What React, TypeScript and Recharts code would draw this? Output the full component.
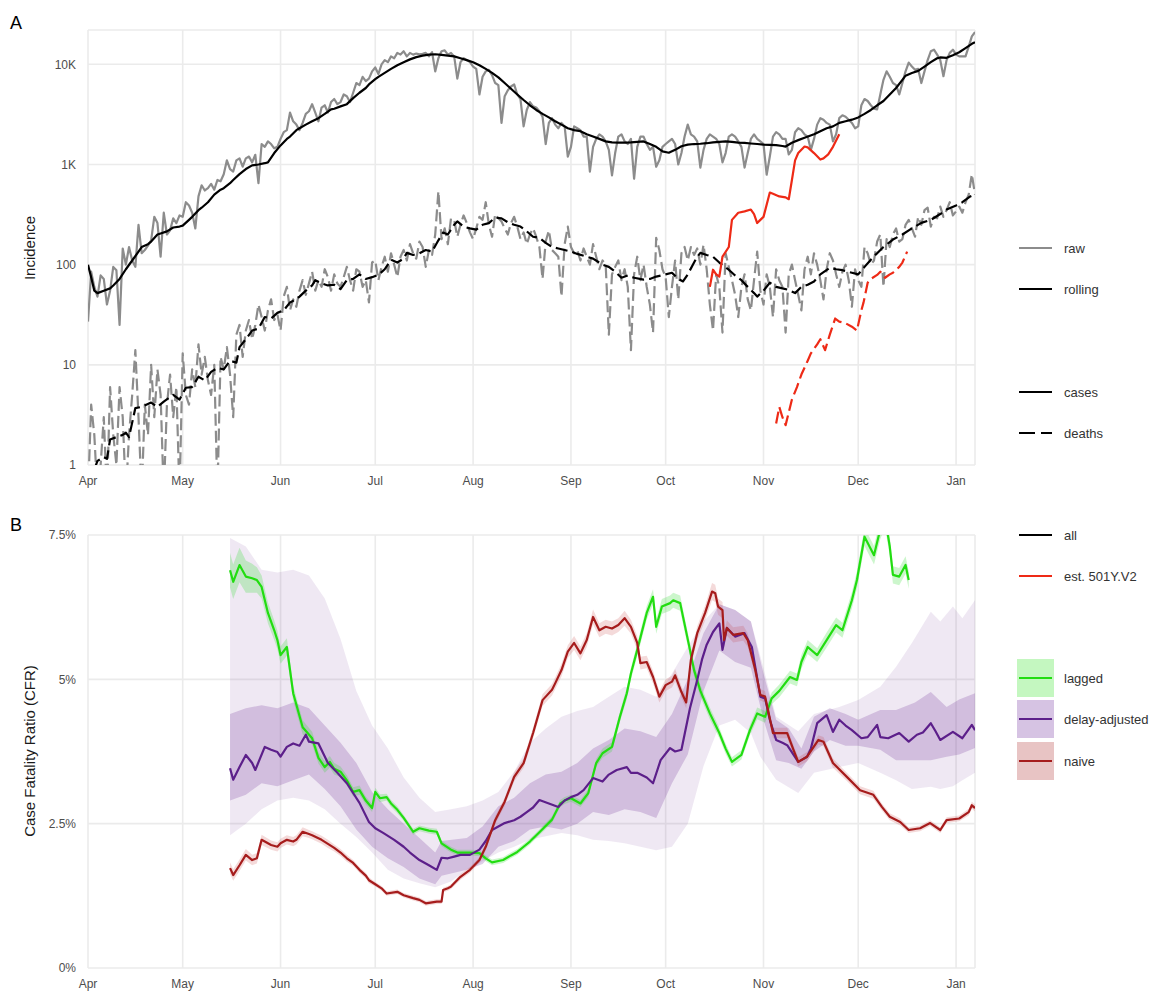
import React from 'react';
import { ComposedChart, Line, Area, XAxis, YAxis, CartesianGrid } from 'recharts';

const FONT = '"Liberation Sans", Arial, Helvetica, sans-serif';

// ---- axes ----
const monthTicks = [0, 30, 61, 91, 122, 153, 183, 214, 244, 275];
const monthLabels = ['Apr', 'May', 'Jun', 'Jul', 'Aug', 'Sep', 'Oct', 'Nov', 'Dec', 'Jan'];
const incidenceTicks = [1, 10, 100, 1000, 10000];
const incidenceLabels = ['1', '10', '100', '1K', '10K'];
const cfrTicks = [0, 2.5, 5, 7.5];
const cfrLabels = ['0%', '2.5%', '5%', '7.5%'];

// ---- Panel A : incidence (day 0 = 1 April) ----
const casesRaw = [
  27, 85, 60, 48, 78, 72, 40,
  55, 95, 88, 25, 145, 100, 150,
  110, 95, 250, 130, 140, 155, 175,
  300, 260, 120, 330, 200, 220, 290,
  260, 310, 300, 420, 390, 330, 230,
  480, 620, 550, 580, 640, 560, 700,
  680, 800, 1100, 900, 850, 1100, 1150,
  950, 1150, 1200, 1050, 1250, 650, 1600,
  1500, 1700, 1600, 1450, 1500, 1800, 2100,
  2200, 3300, 2700, 2500, 2200, 2600, 3200,
  3400, 4000, 3300, 2700, 3700, 3900, 3300,
  4200, 4500, 4000, 4200, 5000, 4800, 4200,
  5200, 6500, 6200, 7500, 6800, 7200, 8500,
  9300, 8000, 10000, 11000, 10500, 12000, 11500,
  13000, 12500, 13500, 12000, 13000, 12500, 12800,
  12600, 12700, 13000, 12000, 13200, 8500, 11500,
  13500, 13800, 12500, 13000, 12000, 7200, 10500,
  11500, 11000, 10500, 9500, 9000, 5000, 7500,
  8500, 8800, 7800, 6500, 6200, 2600, 4800,
  5500, 6000, 6300, 5000, 4500, 2400, 3500,
  4200, 3800, 3700, 3400, 3000, 1600, 2600,
  2900, 2500, 2300, 2600, 2400, 1200, 1500,
  2400, 2300, 2200, 1900, 1900, 850, 1500,
  1800, 2000, 1900, 1700, 1400, 780, 1300,
  1900, 2000, 1700, 1600, 1800, 720, 1500,
  1900, 1900, 1600, 1400, 1500, 950, 1100,
  1500, 1600, 1700, 1800, 1600, 1000, 1300,
  1900, 2500, 2000, 1900, 1700, 930, 1400,
  1800, 2000, 1900, 1800, 1600, 1050, 1300,
  1900, 2000, 1900, 1700, 1500, 930, 1300,
  1800, 2000, 1800, 1700, 1600, 790, 1200,
  1900, 2100, 2000, 1800, 1800, 1260, 1400,
  2100, 2300, 2200, 2000, 1900, 1400, 1800,
  2500, 2900, 2800, 2600, 2500, 1700, 2000,
  2900, 3100, 3000, 2800, 2600, 2300, 2400,
  3900, 4500, 4300, 3900, 3600, 3550, 5000,
  7000, 8500, 7500, 6500, 6200, 5000, 6500,
  8500, 10400, 9500, 8800, 9000, 6500, 8500,
  11000, 13500, 14000, 12500, 11000, 7600, 11000,
  13000, 14000, 12500, 12000, 12000, 12000, 15000,
  19000, 21000,
];

const casesRolling: [number, number][] = [
  [0, 100], [1, 75], [2, 55], [3, 52], [5, 55], [7, 58], [8, 62], [10, 72], [12, 90], [14, 110],
  [16, 135], [17, 150], [19, 160], [20, 170], [22, 200], [23, 205], [25, 215], [27, 235], [29, 240],
  [30, 245], [32, 280], [33, 300], [35, 350], [36, 370], [38, 420], [40, 500], [42, 560], [43, 580],
  [45, 650], [46, 700], [48, 800], [50, 900], [52, 980], [54, 1000], [56, 1030], [57, 1050],
  [59, 1300], [61, 1550], [63, 1800], [64, 1900], [66, 2200], [67, 2300], [69, 2500], [71, 2700],
  [73, 2900], [75, 3200], [77, 3550], [78, 3600], [80, 3800], [82, 4000], [84, 4600], [86, 5200],
  [88, 5800], [89, 6300], [91, 7100], [92, 7500], [94, 8200], [96, 9000], [98, 9800], [100, 10500],
  [102, 11200], [104, 11800], [106, 12200], [108, 12500], [110, 12600], [112, 12400], [114, 12200],
  [116, 12000], [118, 11500], [120, 11000], [122, 10500], [124, 9800], [126, 9000], [128, 8200],
  [130, 7400], [132, 6500], [134, 5700], [136, 5000], [138, 4400], [140, 3900], [142, 3500],
  [144, 3200], [146, 2950], [148, 2700], [150, 2500], [152, 2300], [154, 2200], [156, 2150],
  [158, 2000], [160, 1900], [162, 1800], [164, 1700], [166, 1660], [168, 1650], [170, 1650],
  [172, 1660], [174, 1680], [176, 1700], [178, 1600], [180, 1500], [182, 1350], [184, 1310],
  [186, 1400], [188, 1520], [190, 1580], [192, 1600], [194, 1610], [196, 1630], [198, 1660],
  [200, 1680], [202, 1700], [204, 1680], [206, 1650], [208, 1640], [210, 1620], [212, 1600],
  [214, 1580], [216, 1570], [218, 1560], [220, 1530], [221, 1510], [223, 1650], [225, 1750],
  [227, 1850], [230, 2000], [232, 2150], [234, 2300], [236, 2400], [238, 2600], [240, 2700],
  [242, 2800], [244, 2950], [246, 3200], [248, 3500], [250, 3900], [252, 4300], [254, 5000],
  [256, 5800], [258, 7000], [259, 7700], [261, 8200], [263, 8600], [265, 9500], [267, 10500],
  [269, 11500], [270, 11700], [272, 11600], [274, 12300], [276, 13200], [278, 14500], [280, 16000],
  [281, 16600],
];

// 0.5 stands for days with zero reported deaths (below the log axis)
const deathsRaw = [
  0.5, 4, 2, 0.5, 1, 3, 0.5, 6, 2, 1,
  6, 3, 0.5, 2, 5, 14, 3, 0.5, 4, 2,
  10, 3, 9, 5, 0.5, 4, 8, 3, 6, 0.5,
  13, 5, 4, 9, 6, 16, 8, 12, 7, 5,
  10, 0.5, 12, 9, 15, 8, 3, 20, 25, 12,
  22, 28, 18, 25, 40, 30, 22, 35, 45, 28,
  32, 22, 48, 60, 35, 45, 38, 55, 70, 50,
  65, 85, 55, 70, 60, 90, 75, 55, 80, 65,
  60, 75, 95, 70, 55, 90, 85, 60, 70, 42,
  105, 110, 70, 95, 120, 85, 130, 100, 75, 120,
  140, 110, 160, 130, 115, 170, 150, 95, 140, 125,
  200, 540, 180, 230, 160, 290, 280, 190, 250, 310,
  260, 210, 180, 230, 300, 280, 420, 250, 190, 320,
  290, 270, 230, 200, 260, 300, 240, 180, 210, 160,
  200, 230, 190, 150, 72, 170, 220, 140, 130, 120,
  48, 160, 240, 150, 130, 140, 110, 145, 120, 100,
  160, 120, 90, 110, 100, 20, 80, 95, 110, 70,
  90, 60, 14, 80, 120, 70, 100, 60, 40, 21,
  185, 140, 90, 75, 30, 60, 110, 45, 130, 150,
  110, 150, 125, 145, 100, 158, 90, 40, 22, 80,
  60, 21, 130, 95, 70, 50, 30, 60, 80, 45,
  35, 70, 135, 55, 40, 80, 60, 30, 90, 70,
  60, 21, 80, 100, 70, 50, 35, 90, 120, 80,
  130, 100, 70, 45, 90, 130, 110, 80, 60, 85,
  100, 70, 38, 90, 70, 60, 150, 130, 100, 110,
  170, 200, 60, 180, 150, 200, 230, 170, 180, 250,
  280, 230, 190, 300, 250, 350, 370, 240, 300, 290,
  380, 300, 350, 420, 310, 340, 380, 330, 420, 500, 800, 500,
];

const deathsRolling: [number, number][] = [
  [2, 0.9], [3, 1.1], [5, 1.2], [6, 1.15], [7, 1.8], [9, 1.9], [11, 2.0], [12, 2.1], [13, 1.9],
  [15, 3.7], [17, 3.8], [20, 4.2], [22, 3.8], [24, 4.3], [27, 5.0], [29, 4.5], [31, 5.9], [33, 6.0],
  [35, 7.6], [37, 7.0], [39, 8.5], [41, 9.3], [43, 9.0], [45, 11], [47, 10.5], [48, 15], [50, 18],
  [52, 22], [54, 23], [56, 30], [58, 29], [60, 33], [62, 35], [64, 42], [66, 45], [67, 48], [69, 55],
  [71, 62], [72, 70], [74, 65], [76, 62], [78, 63], [80, 57], [82, 70], [84, 72], [86, 80], [88, 72],
  [90, 75], [92, 79], [94, 90], [96, 112], [98, 105], [100, 115], [101, 131], [103, 125], [105, 130],
  [107, 140], [109, 135], [111, 175], [112.5, 209], [114, 200], [116, 250], [117, 270], [119, 240],
  [121, 230], [123, 224], [125, 250], [127, 260], [129, 295], [131, 290], [133, 265], [135, 250],
  [137, 240], [139, 215], [141, 190], [143, 185], [145, 165], [147, 150], [149, 145], [151, 140],
  [153, 135], [155, 128], [158, 120], [160, 115], [163, 100], [165, 95], [167, 85], [169, 74],
  [171, 78], [173, 74], [176, 71], [178, 72], [180, 76], [183, 80], [185, 83], [187, 72], [188.5, 68],
  [190, 80], [192, 105], [193, 120], [194, 131], [196, 125], [198, 120], [200, 105], [203, 89],
  [205, 78], [207, 70], [209, 60], [211, 52], [212, 48], [214, 55], [216, 66], [218, 60], [220, 58],
  [222, 56], [224, 52], [226, 60], [228, 63], [230, 68], [232, 80], [235, 93], [237, 90], [239, 88],
  [242, 83], [244, 80], [246, 95], [248, 112], [250, 130], [252, 150], [255, 178], [258, 200],
  [261, 230], [264, 261], [267, 280], [270, 320], [272, 355], [275, 390], [277, 420], [279.5, 480],
  [281, 500],
];

const variantCases: [number, number][] = [
  [197, 60], [198, 89], [199, 80], [200, 76], [201, 120], [203, 150], [204, 280], [206, 330],
  [208, 340], [210, 355], [211, 320], [212, 260], [213, 280], [214, 300], [216, 525], [217, 510],
  [219, 480], [221, 470], [222, 450], [223, 700], [224, 1100], [225, 1300], [227, 1510], [228, 1480],
  [230, 1300], [232, 1120], [233, 1150], [234.5, 1260], [236, 1500], [238, 2000],
];

const variantDeaths: [number, number][] = [
  [218, 2.6], [219, 3.8], [220, 3.0], [221, 2.5], [223, 4.5], [224.6, 6], [226, 8], [228, 11],
  [229, 13], [231, 16], [232, 18], [233.5, 14], [235, 20], [236.7, 29], [238, 27], [240, 26],
  [242, 24], [243.6, 22], [245, 35], [245.7, 42], [247, 66], [248, 72], [250, 79], [251, 85],
  [252.5, 74], [254, 80], [255, 83], [257, 95], [258, 105], [259.5, 135],
];

// ---- Panel B : CFR in % ----
// [day, estimate, half-width of ribbon]
const lagged: [number, number, number][] = [
  [45, 6.89, 0.3], [46, 6.69, 0.3], [48, 6.98, 0.3], [50, 6.78, 0.28], [52, 6.75, 0.25], [53.5, 6.72, 0.22],
  [55, 6.6, 0.2], [57, 6.15, 0.18], [59, 5.85, 0.17], [60, 5.68, 0.16], [61, 5.42, 0.15], [63, 5.56, 0.15],
  [65, 4.76, 0.13], [68, 4.17, 0.12], [71, 3.98, 0.11], [73, 3.64, 0.1], [75, 3.48, 0.1], [76.6, 3.57, 0.1],
  [78, 3.45, 0.1], [80, 3.4, 0.09], [82, 3.25, 0.09], [84, 3.05, 0.08], [86, 3.08, 0.08], [88, 2.9, 0.07],
  [90, 2.77, 0.07], [91, 3.05, 0.07], [92.5, 2.94, 0.07], [94.6, 2.96, 0.06], [96, 2.85, 0.06], [98, 2.74, 0.06],
  [100, 2.6, 0.05], [103, 2.36, 0.05], [105, 2.42, 0.05], [108, 2.38, 0.05], [110.5, 2.36, 0.05],
  [112, 2.16, 0.05], [115, 2.05, 0.05], [117, 2.0, 0.05], [121, 2.0, 0.05], [124, 1.99, 0.05],
  [126, 1.9, 0.05], [128, 1.83, 0.05], [131.5, 1.87, 0.05], [134, 1.95, 0.05], [136, 2.01, 0.05],
  [138, 2.1, 0.05], [140, 2.19, 0.05], [143, 2.35, 0.05], [147, 2.57, 0.06], [149.6, 2.85, 0.06],
  [151, 2.9, 0.06], [153, 2.94, 0.06], [156, 2.85, 0.06], [158.5, 3.03, 0.07], [161, 3.55, 0.07],
  [163, 3.72, 0.08], [166, 3.83, 0.08], [168.5, 4.35, 0.09], [170.7, 4.76, 0.1], [172, 5.1, 0.1],
  [174, 5.51, 0.11], [177, 6.15, 0.12], [179, 6.43, 0.13], [180, 5.91, 0.12], [181.8, 6.26, 0.13],
  [184.4, 6.32, 0.13], [185.4, 6.37, 0.13], [187.6, 6.32, 0.13], [190.7, 5.51, 0.12], [192, 5.16, 0.11],
  [194, 4.8, 0.1], [197, 4.41, 0.1], [200, 4.07, 0.09], [202, 3.8, 0.09], [204, 3.57, 0.08],
  [207, 3.69, 0.08], [209.7, 4.12, 0.09], [212, 4.41, 0.1], [214.5, 4.35, 0.1], [216.6, 4.67, 0.1],
  [219, 4.8, 0.11], [222.4, 5.04, 0.11], [224.6, 4.99, 0.11], [226, 5.3, 0.12], [228, 5.56, 0.12],
  [231, 5.42, 0.12], [234, 5.68, 0.13], [237, 5.94, 0.13], [239, 5.85, 0.13], [242, 6.37, 0.14],
  [243.6, 6.72, 0.15], [246, 7.47, 0.16], [249, 7.15, 0.16], [251, 7.6, 0.17], [252.5, 7.8, 0.17],
  [254, 7.3, 0.16], [255, 6.81, 0.15], [257, 6.78, 0.15], [259, 6.98, 0.15], [260, 6.72, 0.15],
];

const naive: [number, number, number][] = [
  [45, 1.73, 0.1], [46, 1.61, 0.1], [48, 1.78, 0.1], [50, 1.96, 0.1], [52, 1.87, 0.09], [53.5, 1.9, 0.09],
  [55, 2.22, 0.09], [58, 2.13, 0.08], [60, 2.1, 0.08], [61, 2.16, 0.08], [63, 2.22, 0.08], [65, 2.19, 0.08],
  [66, 2.22, 0.08], [68, 2.36, 0.08], [70, 2.32, 0.07], [71, 2.3, 0.07], [74, 2.22, 0.07], [76, 2.15, 0.07],
  [78, 2.08, 0.06], [80, 2.0, 0.06], [82, 1.9, 0.06], [84, 1.82, 0.05], [86, 1.7, 0.05], [88, 1.6, 0.05],
  [89, 1.52, 0.05], [91, 1.45, 0.04], [93, 1.38, 0.04], [94.6, 1.29, 0.04], [98, 1.32, 0.04],
  [100, 1.26, 0.04], [103, 1.21, 0.04], [105, 1.18, 0.04], [107, 1.12, 0.04], [110.5, 1.15, 0.04],
  [112, 1.15, 0.04], [112.5, 1.35, 0.04], [114, 1.38, 0.04], [115, 1.41, 0.04], [118, 1.58, 0.05],
  [121, 1.7, 0.05], [124, 1.87, 0.05], [126, 2.1, 0.06], [129, 2.56, 0.07], [132, 2.88, 0.07],
  [135, 3.31, 0.08], [138, 3.55, 0.08], [141, 4.07, 0.09], [144, 4.64, 0.1], [147, 4.82, 0.1],
  [148, 4.93, 0.1], [150, 5.16, 0.11], [152, 5.48, 0.11], [154, 5.63, 0.12], [156, 5.45, 0.12],
  [158, 5.68, 0.12], [160, 6.08, 0.13], [162, 5.85, 0.12], [164, 5.91, 0.12], [166, 5.88, 0.12],
  [168, 5.94, 0.12], [170, 6.06, 0.13], [172, 5.91, 0.12], [174, 5.63, 0.12], [175, 5.28, 0.11],
  [177, 5.3, 0.11], [179, 5.04, 0.11], [181, 4.7, 0.1], [183, 4.9, 0.1], [185, 4.96, 0.1],
  [186, 5.07, 0.11], [188, 4.78, 0.1], [189.5, 4.6, 0.1], [191, 5.34, 0.11], [193, 5.8, 0.12],
  [195.5, 6.15, 0.13], [197.7, 6.52, 0.15], [198.7, 6.49, 0.15], [199.6, 6.26, 0.14], [201, 6.2, 0.14],
  [201.5, 5.68, 0.13], [202.4, 5.89, 0.13], [204.4, 5.77, 0.13], [207.6, 5.8, 0.13], [209, 5.68, 0.12],
  [211.4, 5.16, 0.11], [213, 4.73, 0.1], [214.5, 4.7, 0.1], [217, 4.07, 0.09], [219, 4.07, 0.09],
  [221.5, 4.07, 0.09], [223.5, 3.78, 0.08], [225, 3.57, 0.08], [227.8, 3.66, 0.08], [231.4, 3.95, 0.08],
  [233, 3.92, 0.08], [236, 3.55, 0.08], [240.4, 3.31, 0.07], [244.6, 3.08, 0.07], [248.8, 3.0, 0.07],
  [251.5, 2.79, 0.06], [254, 2.62, 0.06], [257.3, 2.53, 0.06], [260, 2.39, 0.05], [263.6, 2.42, 0.05],
  [266.8, 2.51, 0.05], [270, 2.39, 0.05], [272, 2.56, 0.05], [276, 2.59, 0.05], [279, 2.7, 0.06],
  [280, 2.82, 0.06], [281, 2.77, 0.06],
];

const delayAdjusted: [number, number][] = [
  [45, 3.46], [46, 3.26], [48, 3.48], [50, 3.69], [52, 3.55], [53, 3.43], [56, 3.83], [58, 3.78],
  [60, 3.74], [61, 3.66], [63, 3.83], [65, 3.89], [67, 3.85], [69, 4.04], [70, 3.92], [73, 3.89],
  [76, 3.55], [79, 3.38], [82, 3.2], [86, 2.86], [89, 2.53], [91, 2.42], [93.5, 2.34], [97, 2.22],
  [100, 2.1], [102, 2.0], [105, 1.87], [108, 1.78], [110.5, 1.7], [112, 1.91], [114, 1.9], [116, 1.93],
  [118, 1.96], [121, 1.96], [124, 2.05], [126, 2.2], [128, 2.39], [130, 2.45], [132, 2.51], [135, 2.56],
  [137, 2.62], [139, 2.7], [141, 2.78], [143, 2.91], [146, 2.85], [149, 2.79], [151, 2.9], [153, 2.96],
  [155, 3.0], [157, 3.08], [160, 3.29], [163, 3.23], [165, 3.35], [167.5, 3.43], [170.7, 3.48],
  [172, 3.38], [174, 3.38], [177, 3.3], [179, 3.2], [181.4, 3.6], [184.4, 3.81], [186, 3.75], [188, 3.78],
  [190.7, 4.5], [193, 4.99], [194.5, 5.34], [196, 5.6], [198, 5.82], [200, 5.97], [201, 5.51],
  [202.4, 5.89], [205, 5.74], [208, 5.8], [210.3, 5.56], [213, 4.7], [214.5, 4.67], [216, 4.3],
  [218, 3.95], [220, 3.9], [221.5, 3.86], [225, 3.57], [227.8, 3.66], [229, 3.8], [231, 4.24],
  [234, 4.38], [236, 4.09], [238, 4.3], [240, 4.2], [242, 4.12], [245, 3.98], [247, 4.0],
  [250, 4.21], [251, 4.0], [253.5, 3.98], [257, 4.07], [260, 3.92], [262.6, 4.04], [264.5, 4.08],
  [267, 4.24], [268.5, 4.1], [270, 3.95], [274, 4.09], [277, 3.98], [280, 4.21], [281, 4.12],
];

// [day, low, high] of the inner (50%) and outer (95%) intervals
const delayBand50: [number, number, number][] = [
  [45, 2.9, 4.4], [50, 3.0, 4.5], [55, 3.2, 4.55], [60, 3.15, 4.5], [65, 3.25, 4.6], [70, 3.35, 4.5],
  [75, 3.1, 4.2], [80, 2.8, 3.9], [85, 2.4, 3.55], [90, 2.1, 3.05], [95, 1.9, 2.75], [100, 1.75, 2.5],
  [105, 1.55, 2.25], [110, 1.45, 2.0], [112, 1.6, 2.2], [120, 1.7, 2.25], [125, 1.8, 2.45],
  [130, 2.1, 2.8], [135, 2.2, 2.95], [140, 2.4, 3.2], [145, 2.45, 3.35], [150, 2.4, 3.4],
  [155, 2.5, 3.55], [160, 2.7, 3.8], [165, 2.65, 3.95], [170, 2.75, 4.15], [175, 2.7, 4.1],
  [180, 2.6, 4.0], [185, 3.2, 4.4], [190, 3.7, 5.0], [195, 4.8, 5.8], [200, 5.5, 6.3], [205, 5.3, 6.2],
  [210, 5.2, 6.0], [214, 4.3, 5.1], [218, 3.6, 4.3], [222, 3.55, 4.15], [226, 3.45, 3.8],
  [230, 3.75, 4.35], [235, 3.95, 4.5], [240, 3.85, 4.4], [244, 3.85, 4.3], [251, 3.78, 4.47],
  [256, 3.6, 4.47], [262, 3.6, 4.6], [267, 3.6, 4.78], [272, 3.66, 4.52], [276, 3.7, 4.65], [281, 3.81, 4.76],
];

const delayBand95: [number, number, number][] = [
  [45, 2.3, 7.45], [50, 2.5, 7.3], [55, 2.75, 6.9], [60, 2.9, 6.85], [65, 2.95, 6.9], [70, 2.9, 6.8],
  [75, 2.75, 6.4], [80, 2.5, 5.7], [85, 2.27, 4.8], [90, 2.0, 4.2], [95, 1.7, 3.8], [100, 1.55, 3.3],
  [105, 1.47, 2.95], [110, 1.4, 2.7], [115, 1.5, 2.75], [120, 1.7, 2.8], [125, 1.85, 2.9],
  [130, 2.0, 3.05], [135, 2.1, 3.4], [140, 2.22, 3.9], [145, 2.28, 4.15], [150, 2.34, 4.35],
  [155, 2.3, 4.45], [160, 2.22, 4.52], [165, 2.2, 4.7], [170, 2.16, 4.87], [175, 2.1, 4.82],
  [180, 2.04, 4.7], [185, 2.1, 5.1], [190, 2.5, 5.56], [195, 3.5, 6.0], [200, 4.2, 6.3],
  [205, 4.3, 6.2], [210, 4.07, 6.0], [213, 3.66, 5.4], [218, 3.26, 4.35], [225, 3.03, 4.1],
  [230, 3.38, 4.4], [238, 3.48, 4.52], [244, 3.55, 4.64], [251, 3.38, 4.87], [256, 3.25, 5.22],
  [261, 3.1, 5.63], [267, 3.14, 6.17], [270, 3.1, 6.0], [274, 3.15, 6.26], [277, 3.25, 6.06],
  [281, 3.38, 6.37],
];

// ---- colours ----
const GRAY = '#8c8c8c';
const BLACK = '#000000';
const RED = '#ee2a16';
const GREEN = '#22dd11';
const PURPLE = '#5c1f8a';
const NAIVE = '#a61c1c';
const GRID = '#ebebeb';
const DASH = '12 5';

// ---- build row objects for the library ----
const casesRawData = casesRaw.map((v, i) => ({ d: i, v }));
const deathsRawData = deathsRaw.map((v, i) => ({ d: i, v }));
const pairRows = (arr: [number, number][]) => arr.map(([d, v]) => ({ d, v }));
const casesRollingData = pairRows(casesRolling);
const deathsRollingData = pairRows(deathsRolling);
const variantCasesData = pairRows(variantCases);
const variantDeathsData = pairRows(variantDeaths);
const ribbonRows = (arr: [number, number, number][]) =>
  arr.map(([d, v, s]) => ({ d, v, r: [v - s, v + s] }));
const laggedData = ribbonRows(lagged);
const naiveData = ribbonRows(naive);
const delayData = pairRows(delayAdjusted);
const band50Data = delayBand50.map(([d, lo, hi]) => ({ d, r: [lo, hi] }));
const band95Data = delayBand95.map(([d, lo, hi]) => ({ d, r: [lo, hi] }));

const tickStyle = { fill: '#4d4d4d', fontSize: 12, fontFamily: FONT };
const monthFmt = (v: number) => monthLabels[monthTicks.indexOf(v)] ?? '';
const incFmt = (v: number) => incidenceLabels[incidenceTicks.indexOf(v)] ?? '';
const cfrFmt = (v: number) => cfrLabels[cfrTicks.indexOf(v)] ?? '';

const lineCommon = {
  type: 'linear' as const,
  dataKey: 'v',
  dot: false,
  activeDot: false,
  isAnimationActive: false,
  strokeLinejoin: 'round' as const,
};

function LegendLine({ y, color, dash, label }: { y: number; color: string; dash?: string; label: string }) {
  return (
    <g>
      <line x1={1019} x2={1052} y1={y} y2={y} stroke={color} strokeWidth={2} strokeDasharray={dash} />
      <text x={1064} y={y + 4.5} fontSize={13} fill="#333" fontFamily={FONT}>{label}</text>
    </g>
  );
}

function LegendBox({ y, fill, color, label }: { y: number; fill: string; color: string; label: string }) {
  return (
    <g>
      <rect x={1017} y={y - 19} width={37} height={38} fill={fill} />
      <line x1={1019} x2={1052} y1={y} y2={y} stroke={color} strokeWidth={2} />
      <text x={1064} y={y + 4.5} fontSize={13} fill="#333" fontFamily={FONT}>{label}</text>
    </g>
  );
}

export default function App() {
  return (
    <div style={{ position: 'absolute', left: 0, top: 0, width: 1155, height: 993, background: '#fff', overflow: 'hidden' }}>
      <div style={{ position: 'absolute', left: 0, top: 0 }}>
        <ComposedChart width={980} height={500} margin={{ top: 30, right: 5, left: 0, bottom: 0 }}>
          <CartesianGrid stroke={GRID} strokeWidth={1.6} />
          <XAxis
            type="number"
            dataKey="d"
            domain={[0, 281]}
            allowDataOverflow
            ticks={monthTicks}
            tickFormatter={monthFmt}
            tick={tickStyle}
            axisLine={false}
            tickLine={false}
            tickSize={6}
            tickMargin={5}
            height={35}
            interval={0}
          />
          <YAxis
            type="number"
            scale="log"
            domain={[1, 22000]}
            allowDataOverflow
            ticks={incidenceTicks}
            tickFormatter={incFmt}
            tick={tickStyle}
            axisLine={false}
            tickLine={false}
            tickSize={6}
            tickMargin={6}
            width={88}
            interval={0}
          />
          <Line {...lineCommon} data={deathsRawData} stroke={GRAY} strokeWidth={2.2} strokeDasharray={DASH} />
          <Line {...lineCommon} data={casesRawData} stroke={GRAY} strokeWidth={2.2} />
          <Line {...lineCommon} data={deathsRollingData} stroke={BLACK} strokeWidth={2.2} strokeDasharray={DASH} />
          <Line {...lineCommon} data={casesRollingData} stroke={BLACK} strokeWidth={2.2} />
          <Line {...lineCommon} data={variantDeathsData} stroke={RED} strokeWidth={2.2} strokeDasharray={DASH} />
          <Line {...lineCommon} data={variantCasesData} stroke={RED} strokeWidth={2.2} />
        </ComposedChart>
      </div>

      <div style={{ position: 'absolute', left: 0, top: 500 }}>
        <ComposedChart width={980} height={500} margin={{ top: 35, right: 5, left: 0, bottom: 0 }}>
          <CartesianGrid stroke={GRID} strokeWidth={1.6} />
          <XAxis
            type="number"
            dataKey="d"
            domain={[0, 281]}
            allowDataOverflow
            ticks={monthTicks}
            tickFormatter={monthFmt}
            tick={tickStyle}
            axisLine={false}
            tickLine={false}
            tickSize={6}
            tickMargin={5}
            height={32}
            interval={0}
          />
          <YAxis
            type="number"
            domain={[0, 7.5]}
            allowDataOverflow
            ticks={cfrTicks}
            tickFormatter={cfrFmt}
            tick={tickStyle}
            axisLine={false}
            tickLine={false}
            tickSize={6}
            tickMargin={6}
            width={88}
            interval={0}
          />
          <Area type="linear" data={band95Data} dataKey="r" stroke="none" fill="#7b3f9e" fillOpacity={0.12} isAnimationActive={false} activeDot={false} />
          <Area type="linear" data={band50Data} dataKey="r" stroke="none" fill="#7b3f9e" fillOpacity={0.25} isAnimationActive={false} activeDot={false} />
          <Area type="linear" data={laggedData} dataKey="r" stroke="none" fill="#33dd33" fillOpacity={0.25} isAnimationActive={false} activeDot={false} />
          <Area type="linear" data={naiveData} dataKey="r" stroke="none" fill="#c03030" fillOpacity={0.18} isAnimationActive={false} activeDot={false} />
          <Line {...lineCommon} data={laggedData} stroke={GREEN} strokeWidth={2.2} />
          <Line {...lineCommon} data={delayData} stroke={PURPLE} strokeWidth={2.2} />
          <Line {...lineCommon} data={naiveData} stroke={NAIVE} strokeWidth={2.2} />
        </ComposedChart>
      </div>

      <svg width={1155} height={993} style={{ position: 'absolute', left: 0, top: 0, pointerEvents: 'none' }}>
        <text x={10} y={29} fontSize={18} fill="#000" fontFamily={FONT}>A</text>
        <text x={10} y={531} fontSize={18} fill="#000" fontFamily={FONT}>B</text>
        <text x={35} y={248} fontSize={15} fill="#1a1a1a" fontFamily={FONT} textAnchor="middle" transform="rotate(-90 35 248)">Incidence</text>
        <text x={35} y={751} fontSize={15} fill="#1a1a1a" fontFamily={FONT} textAnchor="middle" transform="rotate(-90 35 751)">Case Fatality Ratio (CFR)</text>

        <LegendLine y={248} color={GRAY} label="raw" />
        <LegendLine y={289} color={BLACK} label="rolling" />
        <LegendLine y={392} color={BLACK} label="cases" />
        <LegendLine y={433} color={BLACK} dash="16 6" label="deaths" />

        <LegendLine y={535} color={BLACK} label="all" />
        <LegendLine y={576} color={RED} label="est. 501Y.V2" />

        <LegendBox y={678} fill="#c4f7c0" color={GREEN} label="lagged" />
        <LegendBox y={719} fill="#d6c3e3" color={PURPLE} label="delay-adjusted" />
        <LegendBox y={761} fill="#e8c4c4" color={NAIVE} label="naive" />
      </svg>
    </div>
  );
}
